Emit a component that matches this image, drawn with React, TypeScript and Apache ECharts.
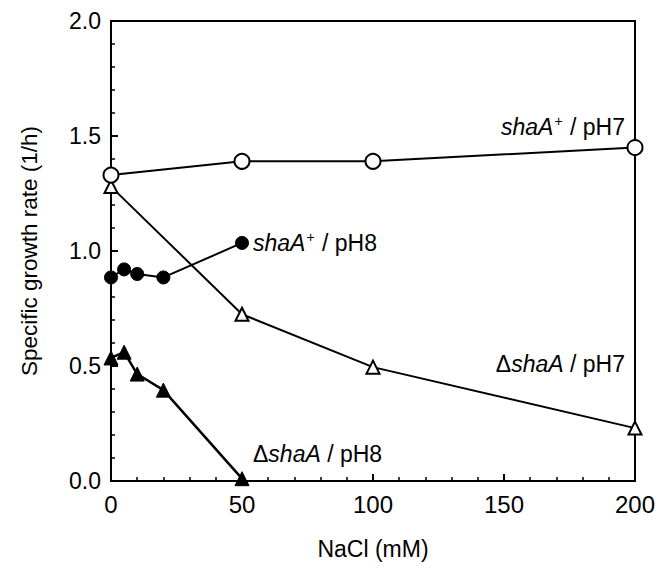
import React, { useEffect, useRef } from "react";
import * as echarts from "echarts";

const xTicks = [0, 50, 100, 150, 200];
const yTicks = [0, 0.5, 1.0, 1.5, 2.0];

const wtPH7X = [0, 50, 100, 200];
const wtPH7Y = [1.33, 1.39, 1.39, 1.45];

const wtPH8X = [0, 5, 10, 20, 50];
const wtPH8Y = [0.885, 0.92, 0.9, 0.885, 1.035];

const delPH7X = [0, 50, 100, 200];
const delPH7Y = [1.28, 0.725, 0.495, 0.23];

const delPH8X = [0, 5, 10, 20, 50];
const delPH8Y = [0.535, 0.56, 0.465, 0.395, 0.01];

const FONT = "Liberation Sans, Arial, Helvetica, sans-serif";

function pairs(xs: number[], ys: number[]) {
  return xs.map((x, i) => [x, ys[i]]);
}

export default function App() {
  const ref = useRef<HTMLDivElement>(null);
  useEffect(() => {
    if (!ref.current) return;
    const chart = echarts.init(ref.current, null, { renderer: "svg" });
    const rich = {
      i: { fontFamily: FONT, fontSize: 23, fontStyle: "italic", color: "#000" },
      n: { fontFamily: FONT, fontSize: 23, color: "#000" },
      s: { fontFamily: FONT, fontSize: 14, color: "#000", padding: [0, 1, 11, 1] },
    };
    const lbl = (pos: Record<string, number>, text: string) => ({
      type: "text",
      ...pos,
      style: { text, rich, fontFamily: FONT, fontSize: 23, fill: "#000" },
    });
    chart.setOption({
      animation: false,
      backgroundColor: "#fff",
      textStyle: { fontFamily: FONT },
      grid: {
        left: 111, right: 24, top: 21, bottom: 88, show: true,
        borderColor: "#000", borderWidth: 2, containLabel: false, outerBoundsMode: "none",
      },
      xAxis: {
        type: "value",
        min: 0,
        max: 200,
        interval: 50,
        name: "NaCl (mM)",
        nameLocation: "middle",
        nameGap: 56,
        nameTextStyle: { fontSize: 23, color: "#000", fontFamily: FONT },
        axisLine: { lineStyle: { color: "#000", width: 2 } },
        axisTick: { inside: true, length: 7, lineStyle: { color: "#000", width: 2 } },
        minorTick: { show: true, splitNumber: 5, length: 4, lineStyle: { color: "#000", width: 1.5 } },
        splitLine: { show: false },
        axisLabel: { fontSize: 24, color: "#000", margin: 11, fontFamily: FONT,
          formatter: (v: number) => (xTicks.includes(v) ? String(v) : "") },
      },
      yAxis: {
        type: "value",
        min: 0,
        max: 2,
        interval: 0.5,
        name: "Specific growth rate (1/h)",
        nameLocation: "middle",
        nameGap: 70,
        nameTextStyle: { fontSize: 22.5, color: "#000", fontFamily: FONT },
        axisLine: { show: true, lineStyle: { color: "#000", width: 2 } },
        axisTick: { show: true, inside: true, length: 7, lineStyle: { color: "#000", width: 2 } },
        minorTick: { show: true, splitNumber: 5, length: 4, lineStyle: { color: "#000", width: 1.5 } },
        splitLine: { show: false },
        axisLabel: { fontSize: 23, color: "#000", margin: 10, fontFamily: FONT,
          formatter: (v: number) => (yTicks.includes(v) ? v.toFixed(1) : "") },
      },
      series: [
        {
          type: "line",
          data: pairs(delPH7X, delPH7Y),
          symbol: "triangle",
          symbolSize: 13,
          lineStyle: { color: "#000", width: 2 },
          itemStyle: { color: "#fff", borderColor: "#000", borderWidth: 2 },
          z: 2,
        },
        {
          type: "line",
          data: pairs(delPH8X, delPH8Y),
          symbol: "triangle",
          symbolSize: 14,
          lineStyle: { color: "#000", width: 2.5 },
          itemStyle: { color: "#000", borderColor: "#000", borderWidth: 1 },
          z: 3,
        },
        {
          type: "line",
          data: pairs(wtPH8X, wtPH8Y),
          symbol: "circle",
          symbolSize: 13,
          lineStyle: { color: "#000", width: 2 },
          itemStyle: { color: "#000", borderColor: "#000", borderWidth: 1 },
          z: 4,
        },
        {
          type: "line",
          data: pairs(wtPH7X, wtPH7Y),
          symbol: "circle",
          symbolSize: 15,
          lineStyle: { color: "#000", width: 2 },
          itemStyle: { color: "#fff", borderColor: "#000", borderWidth: 2 },
          z: 5,
        },
      ],
      graphic: [
        lbl({ right: 34, top: 114 }, "{i|shaA}{s|+}{n| / pH7}"),
        lbl({ left: 253, top: 230 }, "{i|shaA}{s|+}{n| / pH8}"),
        lbl({ right: 34, top: 352 }, "{n|\u0394}{i|shaA}{n| / pH7}"),
        lbl({ left: 253, top: 442 }, "{n|\u0394}{i|shaA}{n| / pH8}"),
      ],
    });
    return () => chart.dispose();
  }, []);
  return (
    <div
      ref={ref}
      style={{ position: "absolute", left: 0, top: 0, width: 659, height: 569 }}
    />
  );
}
